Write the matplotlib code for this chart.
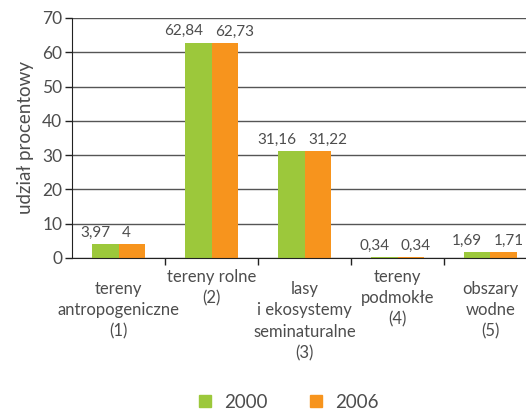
import matplotlib
matplotlib.use("Agg")
import matplotlib.pyplot as plt
from matplotlib.lines import Line2D
import numpy as np

categories = ["tereny\nantropogeniczne\n(1)", "tereny rolne\n(2)",
              "lasy\ni ekosystemy\nseminaturalne\n(3)", "tereny\npodmokłe\n(4)",
              "obszary\nwodne\n(5)"]
label_offsets = [0, 1, 0, 1, 0]  # 0 = lower row, 1 = upper row
v2000 = [3.97, 62.84, 31.16, 0.34, 1.69]
v2006 = [4, 62.73, 31.22, 0.34, 1.71]
labels2000 = ["3,97", "62,84", "31,16", "0,34", "1,69"]
labels2006 = ["4", "62,73", "31,22", "0,34", "1,71"]
series_names = ["2000", "2006"]
yticks = [0, 10, 20, 30, 40, 50, 60, 70]

green = "#9cc83b"
orange = "#f7941d"
txt = "#4d4d4d"
plt.rcParams['font.family'] = ['Lato', 'DejaVu Sans']

fig = plt.figure(figsize=(5.26, 4.09), dpi=100)
ax = fig.add_axes([72/526, 1-258/409, 465/526, 240/409])

x = np.arange(len(categories))
w = 0.29
ax.bar(x - w/2, v2000, w, color=green, zorder=3)
ax.bar(x + w/2, v2006, w, color=orange, zorder=3)
for i in range(len(x)):
    ax.annotate(labels2000[i], (x[i], v2000[i]), xytext=(-6, 3),
                textcoords='offset points', ha='right', va='bottom',
                fontsize=11, color=txt)
    ax.annotate(labels2006[i], (x[i], v2006[i]), xytext=(2.5, 3),
                textcoords='offset points', ha='left', va='bottom',
                fontsize=11, color=txt)

ax.set_xlim(-0.5, len(categories) - 0.5)
ax.set_ylim(0, 70)
ax.set_yticks(yticks)
ax.set_yticklabels([str(t) for t in yticks], fontsize=12.5, color=txt)
ax.set_xticks(np.arange(len(categories) - 1) + 0.5)
ax.set_xticklabels([])
ax.tick_params(axis='x', length=5, width=1, color='#222222', direction='out')
ax.tick_params(axis='y', length=5, width=1, color='#222222', direction='out', pad=2)
ax.yaxis.grid(True, color='#555555', linewidth=1)
ax.set_axisbelow(True)
for s in ['top', 'right']:
    ax.spines[s].set_visible(False)
ax.spines['left'].set_color('#222222')
ax.spines['bottom'].set_color('#222222')
ax.spines['bottom'].set_zorder(4)
ax.set_ylabel("udział procentowy", fontsize=13.5, color=txt, labelpad=6)

trans = ax.get_xaxis_transform()
for i, c in enumerate(categories):
    ytop = -0.045 if label_offsets[i] == 1 else -0.095
    ax.text(x[i], ytop, c, transform=trans, ha='center', va='top',
            fontsize=12, color=txt, linespacing=1.42)

handles = [Line2D([], [], marker='s', linestyle='none', markersize=8,
                  markerfacecolor=green, markeredgecolor=green),
           Line2D([], [], marker='s', linestyle='none', markersize=8,
                  markerfacecolor=orange, markeredgecolor=orange)]
fig.legend(handles, series_names, loc='center', bbox_to_anchor=(288/526, 1-402/409),
           ncol=2, frameon=False, fontsize=13.5, handlelength=0.8,
           handletextpad=0.6, columnspacing=2.2, labelcolor=txt)

fig.savefig("out.png", dpi=100)
